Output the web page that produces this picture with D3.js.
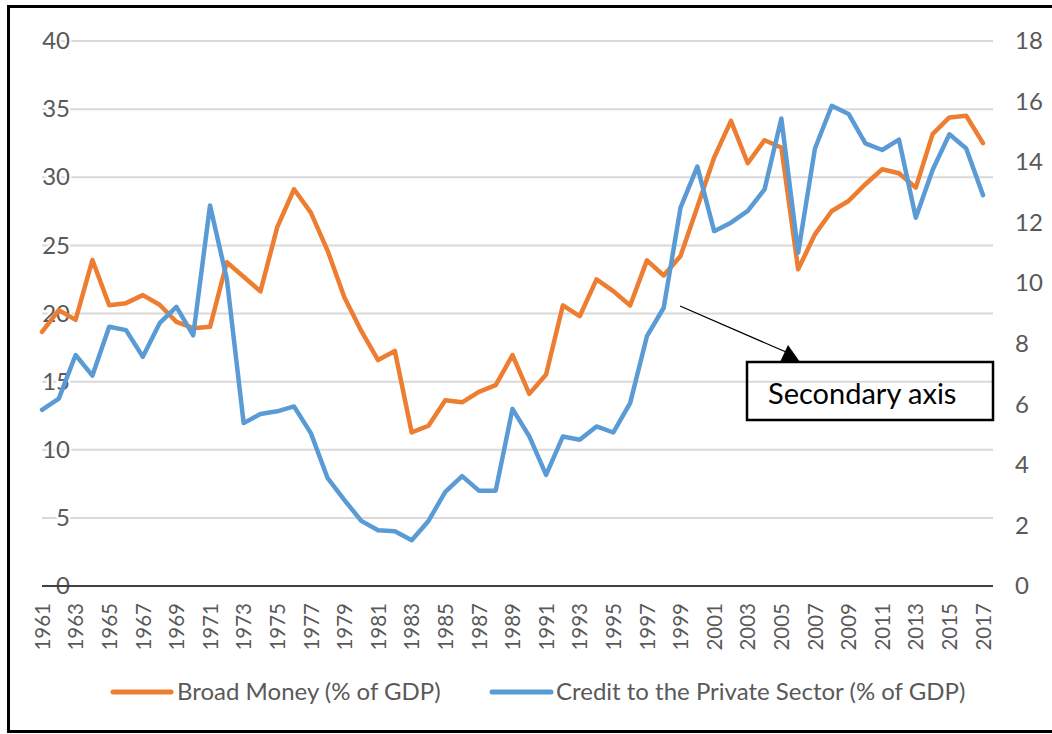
<!DOCTYPE html>
<html>
<head>
<meta charset="utf-8">
<script src="https://cdn.jsdelivr.net/npm/d3@7"></script>
<style>
  body { margin: 0; background: #fff; }
  text { font-family: Lato, "Liberation Sans", sans-serif; }
</style>
</head>
<body>
<div id="chart"></div>
<script>
// years on the category axis
var years = d3.range(1961, 2018);

// Broad Money (% of GDP) - left axis
var broadMoney = [18.65, 20.25, 19.53, 23.93, 20.61, 20.76, 21.35, 20.64, 19.39, 18.92,
	19.02, 23.76, 22.7, 21.62, 26.34, 29.12, 27.4, 24.6, 21.18, 18.72,
	16.58, 17.25, 11.27, 11.76, 13.63, 13.48, 14.25, 14.74, 16.95, 14.1,
	15.52, 20.6, 19.8, 22.5, 21.64, 20.59, 23.9, 22.79, 24.22, 27.82,
	31.45, 34.14, 31.03, 32.72, 32.18, 23.24, 25.81, 27.52, 28.26, 29.49,
	30.59, 30.29, 29.24, 33.16, 34.39, 34.51, 32.5];

// Credit to the Private Sector (% of GDP) - secondary axis
var credit = [5.82, 6.19, 7.63, 6.95, 8.56, 8.45, 7.57, 8.68, 9.22, 8.28,
	12.57, 10.14, 5.38, 5.68, 5.77, 5.93, 5.05, 3.56, 2.84, 2.15,
	1.84, 1.81, 1.51, 2.15, 3.11, 3.63, 3.15, 3.15, 5.85, 4.94,
	3.67, 4.94, 4.83, 5.27, 5.07, 6.04, 8.25, 9.19, 12.5, 13.85,
	11.72, 12.0, 12.39, 13.1, 15.44, 11.01, 14.45, 15.86, 15.59, 14.62,
	14.4, 14.74, 12.16, 13.74, 14.92, 14.45, 12.91];

var leftTicks = [0, 5, 10, 15, 20, 25, 30, 35, 40];
var rightTicks = [0, 2, 4, 6, 8, 10, 12, 14, 16, 18];
var seriesNames = ["Broad Money (% of GDP)", "Credit to the Private Sector (% of GDP)"];

var svgWidth = 1052;
var svgHeight = 734;

var orange = "#ED7D31";
var blue = "#5B9BD5";
var labelColor = "#595959";

var svg = d3.select("#chart")
	.append("svg")
	.attr("width", svgWidth)
	.attr("height", svgHeight);

// frame around the picture
svg.append("rect")
	.attr("x", 8.5)
	.attr("y", 6.5)
	.attr("width", 1070)
	.attr("height", 725)
	.attr("fill", "none")
	.attr("stroke", "#000")
	.attr("stroke-width", 3);

// scales
var xScale = d3.scalePoint()
	.domain(years)
	.range([42, 983]);

var yLeft = d3.scaleLinear()
	.domain([0, 40])
	.range([586, 41]);

var yRight = d3.scaleLinear()
	.domain([0, 18])
	.range([586, 41]);

var plotLeft = 42;
var plotRight = 993;

// gridlines
svg.append("g")
	.selectAll("line")
	.data(leftTicks.filter(d => d > 0))
	.enter()
	.append("line")
	.attr("x1", plotLeft)
	.attr("x2", plotRight)
	.attr("y1", d => yLeft(d))
	.attr("y2", d => yLeft(d))
	.attr("stroke", "#d9d9d9")
	.attr("stroke-width", 2);

// left axis labels
var leftAxis = d3.axisLeft(yLeft).tickValues(leftTicks).tickSize(0).tickPadding(0);
var leftG = svg.append("g")
	.attr("transform", "translate(70,0)")
	.call(leftAxis);
leftG.select(".domain").remove();
leftG.selectAll("text")
	.attr("fill", labelColor)
	.attr("stroke", "#fff")
	.attr("stroke-width", 4)
	.attr("paint-order", "stroke")
	.style("font-size", "24px")
	.style("font-family", "Lato, 'Liberation Sans', sans-serif");

// right axis labels
var rightAxis = d3.axisRight(yRight).tickValues(rightTicks).tickSize(0).tickPadding(0);
var rightG = svg.append("g")
	.attr("transform", "translate(1015,0)")
	.call(rightAxis);
rightG.select(".domain").remove();
rightG.selectAll("text")
	.attr("fill", labelColor)
	.style("font-size", "24px")
	.style("font-family", "Lato, 'Liberation Sans', sans-serif");

// x axis line at zero
svg.append("line")
	.attr("x1", plotLeft)
	.attr("x2", plotRight)
	.attr("y1", yLeft(0))
	.attr("y2", yLeft(0))
	.attr("stroke", "#404040")
	.attr("stroke-width", 2);

// year labels, every second year, rotated
var bottomAxis = d3.axisBottom(xScale)
	.tickValues(years.filter(d => (d - 1961) % 2 === 0))
	.tickSize(0);
var xG = svg.append("g")
	.attr("transform", "translate(0,603)")
	.call(bottomAxis);
xG.select(".domain").remove();
xG.selectAll("text")
	.attr("fill", labelColor)
	.attr("transform", "rotate(-90)")
	.attr("text-anchor", "end")
	.attr("x", 0)
	.attr("y", 0)
	.attr("dy", "0.35em")
	.style("font-size", "20.5px")
	.style("font-family", "Lato, 'Liberation Sans', sans-serif");

// lines
var lineLeft = d3.line()
	.x((d, i) => xScale(years[i]))
	.y(d => yLeft(d));

var lineRight = d3.line()
	.x((d, i) => xScale(years[i]))
	.y(d => yRight(d));

svg.append("path")
	.datum(broadMoney)
	.attr("d", lineLeft)
	.attr("fill", "none")
	.attr("stroke", orange)
	.attr("stroke-width", 4.5)
	.attr("stroke-linejoin", "round")
	.attr("stroke-linecap", "round");

svg.append("path")
	.datum(credit)
	.attr("d", lineRight)
	.attr("fill", "none")
	.attr("stroke", blue)
	.attr("stroke-width", 4.5)
	.attr("stroke-linejoin", "round")
	.attr("stroke-linecap", "round");

// annotation: arrow and box
svg.append("line")
	.attr("x1", 680)
	.attr("y1", 306)
	.attr("x2", 786)
	.attr("y2", 352)
	.attr("stroke", "#000")
	.attr("stroke-width", 1.3);

svg.append("polygon")
	.attr("points", "788,345 780,362 800,362")
	.attr("fill", "#000");

svg.append("rect")
	.attr("x", 747)
	.attr("y", 362)
	.attr("width", 246)
	.attr("height", 58)
	.attr("fill", "none")
	.attr("stroke", "#000")
	.attr("stroke-width", 2.5);

svg.append("text")
	.attr("x", 768)
	.attr("y", 404)
	.attr("fill", "#000")
	.style("font-size", "29px")
	.text("Secondary axis");

// legend
var legendItems = [
	{name: seriesNames[0], color: orange, x1: 113, x2: 171, tx: 177},
	{name: seriesNames[1], color: blue, x1: 492, x2: 551, tx: 556}
];

var legend = svg.append("g");
legend.selectAll("line")
	.data(legendItems)
	.enter()
	.append("line")
	.attr("x1", d => d.x1)
	.attr("x2", d => d.x2)
	.attr("y1", 692)
	.attr("y2", 692)
	.attr("stroke", d => d.color)
	.attr("stroke-width", 5)
	.attr("stroke-linecap", "round");

legend.selectAll("text")
	.data(legendItems)
	.enter()
	.append("text")
	.attr("x", d => d.tx)
	.attr("y", 692)
	.attr("dy", "0.35em")
	.attr("fill", labelColor)
	.style("font-size", "24px")
	.text(d => d.name);
</script>
</body>
</html>
